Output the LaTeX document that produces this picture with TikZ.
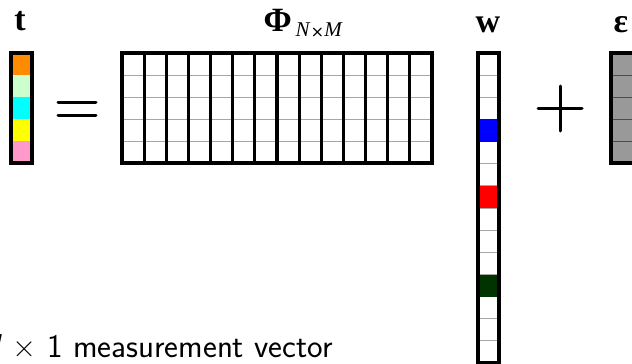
\documentclass[tikz,border=0pt]{standalone}
\usepackage{fontspec}
\setmainfont{Liberation Serif}
\definecolor{tOrange}{HTML}{FF8C00}
\definecolor{tMint}{HTML}{CCFFCC}
\definecolor{tCyan}{HTML}{00FFFF}
\definecolor{tYellow}{HTML}{FFFF00}
\definecolor{tPink}{HTML}{FF99CC}
\definecolor{wBlue}{HTML}{0000FF}
\definecolor{wRed}{HTML}{FF0000}
\definecolor{wGreen}{HTML}{003300}
\definecolor{gridgray}{HTML}{A6A6A6}
\definecolor{noisefill}{HTML}{999999}
\definecolor{noiseline}{HTML}{4D4D4D}
\begin{document}
\begin{tikzpicture}[x=1pt,y=-1pt,
  frame/.style={line width=3.3pt, line join=miter},
  rowline/.style={line width=1pt, draw=gridgray},
  colline/.style={line width=3.1pt},
  sym/.style={line width=3pt, line cap=round},
  lbl/.style={font=\fontsize{34}{34}\selectfont\bfseries, inner sep=0pt},
  caption/.style={font=\fontsize{33}{36}\selectfont\sffamily, inner sep=0pt}]
\useasboundingbox (0,0) rectangle (632,364);
\clip (0,0) rectangle (632,364);

% measurement vector t
\foreach \c [count=\i from 0] in {tOrange,tMint,tCyan,tYellow,tPink}
  \fill[\c] (11,53+22*\i) rectangle (32,75+22*\i);
\draw[frame] (11,53) rectangle (32,163);
\node[lbl] (tlab) at (20,21) {t};

% equals sign
\coordinate (eqL1) at (58,102);
\coordinate (eqR1) at (96,102);
\coordinate (eqL2) at (58,115);
\coordinate (eqR2) at (96,115);
\draw[sym] (eqL1) -- (eqR1);
\draw[sym] (eqL2) -- (eqR2);

% dictionary matrix Phi
\foreach \k in {1,...,4}
  \draw[rowline] (122,53+22*\k) -- (432,53+22*\k);
\foreach \k in {1,...,13}
  \draw[colline] (122+22.143*\k,53) -- (122+22.143*\k,163);
\draw[frame] (122,53) rectangle (432,163);
\node[lbl, anchor=base east] (philab) at (292,31) {Φ};
\node[font=\fontsize{21}{21}\selectfont, inner sep=0pt, anchor=base west]
  (phisub) at ([yshift=-5pt]philab.base east) {\,\textit{N}{\sffamily\bfseries\fontsize{16}{16}\selectfont ×}\textit{M}};

% sparse weight vector w
\foreach \k in {1,...,13}
  \draw[rowline] (478,53+22.15*\k) -- (499,53+22.15*\k);
\foreach \k/\c in {3/wBlue,6/wRed,10/wGreen}
  \fill[\c] (478,53+22.15*\k) rectangle (499,75.15+22.15*\k);
\draw[frame] (478,53) rectangle (499,363);
\node[lbl] (wlab) at (488,25) {w};

% plus sign
\coordinate (plL) at (538,108);
\coordinate (plR) at (582,108);
\coordinate (plT) at (560,86);
\coordinate (plB) at (560,131);
\draw[sym] (plL) -- (plR);
\draw[sym] (plT) -- (plB);

% noise vector epsilon
\fill[noisefill] (611,53) rectangle (645,163);
\foreach \k in {1,...,4}
  \draw[line width=1pt, noiseline] (611,53+22*\k) -- (645,53+22*\k);
\draw[frame] (611,53) rectangle (645,163);
\node[lbl] (elab) at (621,25) {ε};

% caption
\node[caption, anchor=base east] (cap) at (333,357)
  {\textit{N} × 1 measurement vector};
\end{tikzpicture}
\end{document}
